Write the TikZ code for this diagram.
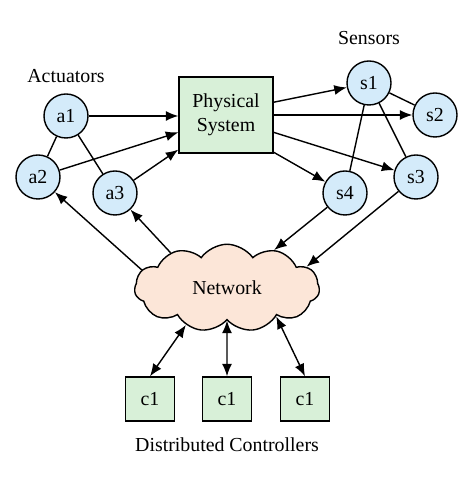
\documentclass[tikz,border=0pt]{standalone}
\usepackage{fontspec}
\setmainfont{Liberation Serif}
\usetikzlibrary{arrows.meta,shapes.symbols}

\definecolor{sensorblue}{RGB}{212,235,250}
\definecolor{ctrlgreen}{RGB}{216,240,216}
\definecolor{netpeach}{RGB}{252,230,216}

\tikzset{
  dev/.style={circle,draw,line width=0.8pt,fill=sensorblue,minimum size=0.88cm,inner sep=0pt},
  plant/.style={draw,line width=0.8pt,fill=ctrlgreen,minimum width=1.88cm,minimum height=1.52cm,align=center},
  ctrl/.style={draw,line width=0.8pt,fill=ctrlgreen,minimum width=0.98cm,minimum height=0.88cm},
}

\begin{document}
\begin{tikzpicture}[>={Latex[length=2.5mm,width=2mm]},line width=0.8pt,font=\fontsize{11.3}{13.5}\selectfont]
  \useasboundingbox (0,0) rectangle (9.48,9.54);
  % actuators
  \node (actlbl) at (1.32,8.02) {Actuators};
  \node[dev] (a1) at (1.32,7.22) {a1};
  \node[dev] (a2) at (0.76,6.00) {a2};
  \node[dev] (a3) at (2.30,5.68) {a3};
  % plant
  \node[plant] (sys) at (4.52,7.24) {Physical\\System};
  % sensors
  \node (senlbl) at (7.38,8.78) {Sensors};
  \node[dev] (s1) at (7.38,7.88) {s1};
  \node[dev] (s2) at (8.70,7.24) {s2};
  \node[dev] (s3) at (8.32,6.00) {s3};
  \node[dev] (s4) at (6.90,5.68) {s4};
  % network and controllers
  \node[cloud,draw,fill=netpeach,cloud puffs=11,cloud puff arc=110,aspect=2.3,
        minimum width=3.7cm,minimum height=1.75cm] (net) at (4.54,3.78) {Network};
  \node[ctrl] (ca) at (3.00,1.56) {c1};
  \node[ctrl] (cb) at (4.54,1.56) {c1};
  \node[ctrl] (cc) at (6.10,1.56) {c1};
  \node (ctrllbl) at (4.54,0.64) {Distributed Controllers};

  \draw (a1) -- (a2);
  \draw (a1) -- (a3);
  \draw (s1) -- (s2);
  \draw (s1) -- (s3);
  \draw (s1) -- (s4);

  \draw[->] (a1) -- (a1 -| sys.west);
  \draw[->] (a2) -- (sys.200);
  \draw[->] (a3) -- (sys.216);
  \draw[->] (sys.15) -- (s1);
  \draw[->] (sys.east) -- (s2);
  \draw[->] (sys.-20) -- (s3);
  \draw[->] (sys.-38) -- (s4);

  \draw[->] (s4) -- (net);
  \draw[->] (s3) -- (net.15);
  \draw[->] (net.168) -- (a2);
  \draw[->] (net.148) -- (a3);

  \draw[<->] (net.222) -- (ca.north);
  \draw[<->] (net.south) -- (cb.north);
  \draw[<->] (net.330) -- (cc.north);
\end{tikzpicture}
\end{document}
